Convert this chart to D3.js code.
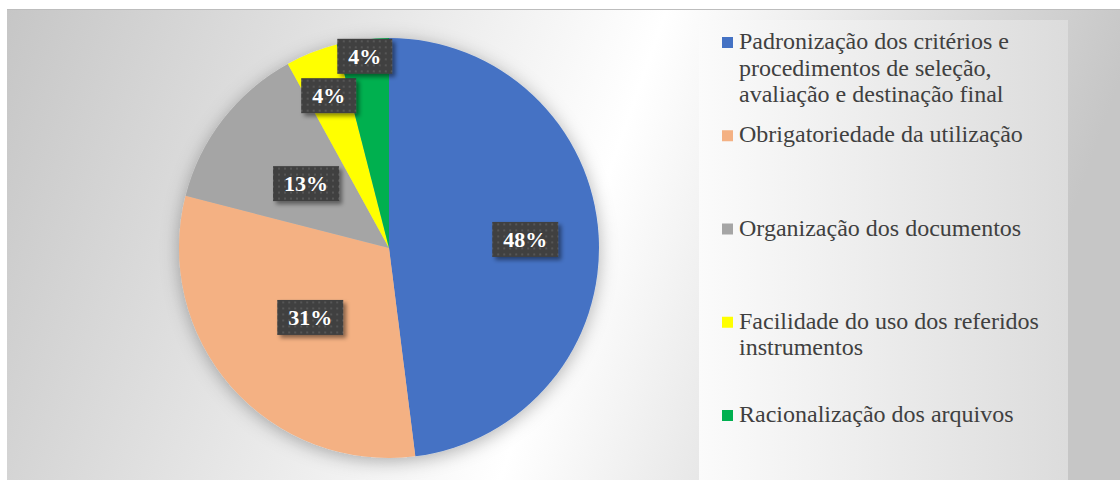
<!DOCTYPE html>
<html>
<head>
<meta charset="utf-8">
<script src="https://cdn.jsdelivr.net/npm/d3@7"></script>
<style>
  body { margin: 0; background: #fff; }
  svg { display: block; }
  text { font-family: "Liberation Serif", Tinos, "Times New Roman", Times, "DejaVu Serif", serif; }
</style>
</head>
<body>
<script>
// data
const categories = [
  "Padronização dos critérios e procedimentos de seleção, avaliação e destinação final",
  "Obrigatoriedade da utilização",
  "Organização dos documentos",
  "Facilidade do uso dos referidos instrumentos",
  "Racionalização dos arquivos"
]
const values = [48, 31, 13, 4, 4]
const colors = ["#4472C4", "#F4B183", "#A5A5A5", "#FFFF00", "#00B050"]
// how far out each label sits (fraction of radius), like excel's best fit
const labelPos = [0.65, 0.5, 0.5, 0.78, 0.92]

const w = 1120
const h = 480
const cx = 389, cy = 248, radius = 210

const svg = d3.select("body")
  .append("svg")
  .attr("width", w)
  .attr("height", h)

const defs = svg.append("defs")

const bg = defs.append("linearGradient")
  .attr("id", "bgGrad")
  .attr("x1", 0).attr("x2", 1).attr("y1", 0).attr("y2", 0.15)
bg.append("stop").attr("offset", 0).attr("stop-color", "#c6c6c6")
bg.append("stop").attr("offset", 0.58).attr("stop-color", "#ffffff")
bg.append("stop").attr("offset", 1).attr("stop-color", "#c6c6c6")

const legGrad = defs.append("linearGradient")
  .attr("id", "legGrad")
  .attr("x1", 0).attr("x2", 1).attr("y1", 0).attr("y2", 0)
legGrad.append("stop").attr("offset", 0).attr("stop-color", "#fbfbfb")
legGrad.append("stop").attr("offset", 1).attr("stop-color", "#dcdcdc")

const pieShadow = defs.append("filter")
  .attr("id", "pieShadow")
  .attr("x", "-20%").attr("y", "-20%").attr("width", "140%").attr("height", "140%")
pieShadow.append("feDropShadow")
  .attr("dx", 0).attr("dy", 3)
  .attr("stdDeviation", 9)
  .attr("flood-color", "#000")
  .attr("flood-opacity", 0.3)

const boxShadow = defs.append("filter")
  .attr("id", "boxShadow")
  .attr("x", "-30%").attr("y", "-30%").attr("width", "160%").attr("height", "160%")
boxShadow.append("feDropShadow")
  .attr("dx", 3).attr("dy", 3)
  .attr("stdDeviation", 2)
  .attr("flood-color", "#000")
  .attr("flood-opacity", 0.45)

const dots = defs.append("pattern")
  .attr("id", "dots")
  .attr("patternUnits", "userSpaceOnUse")
  .attr("width", 6).attr("height", 6)
dots.append("rect").attr("width", 6).attr("height", 6).attr("fill", "#404040")
dots.append("rect").attr("x", 2).attr("y", 2).attr("width", 2).attr("height", 2).attr("fill", "#565656")

// chart area
svg.append("rect")
  .attr("x", 7).attr("y", 9)
  .attr("width", w - 7).attr("height", h - 9)
  .attr("fill", "url(#bgGrad)")
svg.append("line")
  .attr("x1", 7).attr("x2", w)
  .attr("y1", 9.5).attr("y2", 9.5)
  .attr("stroke", "#bdbdbd")

svg.append("rect")
  .attr("x", 699).attr("y", 20)
  .attr("width", 369).attr("height", h - 20)
  .attr("fill", "url(#legGrad)")

// pie
const pie = d3.pie().sort(null).value(d => d)
const arcs = pie(values)
const arc = d3.arc().innerRadius(0).outerRadius(radius)

const g = svg.append("g")
  .attr("transform", `translate(${cx}, ${cy})`)

g.append("g")
  .attr("filter", "url(#pieShadow)")
  .selectAll("path")
  .data(arcs)
  .enter()
  .append("path")
  .attr("d", arc)
  .attr("fill", (d, i) => colors[i])

const total = d3.sum(values)
const labels = g.selectAll(".lbl")
  .data(arcs)
  .enter()
  .append("g")
  .attr("class", "lbl")
  .attr("transform", (d, i) => {
    const a = (d.startAngle + d.endAngle) / 2
    const r = radius * labelPos[i]
    return `translate(${r * Math.sin(a)}, ${-r * Math.cos(a)})`
  })

labels.each(function(d) {
  const sel = d3.select(this)
  const txt = Math.round(d.value / total * 100) + "%"
  const t = sel.append("text")
    .attr("text-anchor", "middle")
    .attr("dy", "0.35em")
    .attr("font-weight", "bold")
    .attr("font-size", 22)
    .attr("fill", "#fff")
    .text(txt)
  const tw = t.node().getComputedTextLength()
  sel.insert("rect", "text")
    .attr("x", -tw / 2 - 11)
    .attr("y", -17.5)
    .attr("width", tw + 22)
    .attr("height", 35)
    .attr("fill", "url(#dots)")
    .attr("filter", "url(#boxShadow)")
})

// legend
const legendY = d3.scalePoint()
  .domain(categories)
  .range([49, 422])

const legend = svg.append("g").attr("id", "legend")
const maxW = 325

categories.forEach((c, i) => {
  const y = legendY(c)
  legend.append("rect")
    .attr("x", 722)
    .attr("y", y - 12)
    .attr("width", 11)
    .attr("height", 11)
    .attr("fill", colors[i])
  const text = legend.append("text")
    .attr("x", 739)
    .attr("y", y)
    .attr("font-size", 24)
    .attr("fill", "#404040")

  // wrap words like excel does
  const words = c.split(" ")
  let line = []
  let lineNo = 0
  let tspan = text.append("tspan").attr("x", 739).attr("y", y)
  words.forEach(word => {
    line.push(word)
    tspan.text(line.join(" "))
    if (tspan.node().getComputedTextLength() > maxW && line.length > 1) {
      line.pop()
      tspan.text(line.join(" "))
      line = [word]
      lineNo++
      tspan = text.append("tspan")
        .attr("x", 739)
        .attr("y", y + lineNo * 26.5)
        .text(word)
    }
  })
})
</script>
</body>
</html>
